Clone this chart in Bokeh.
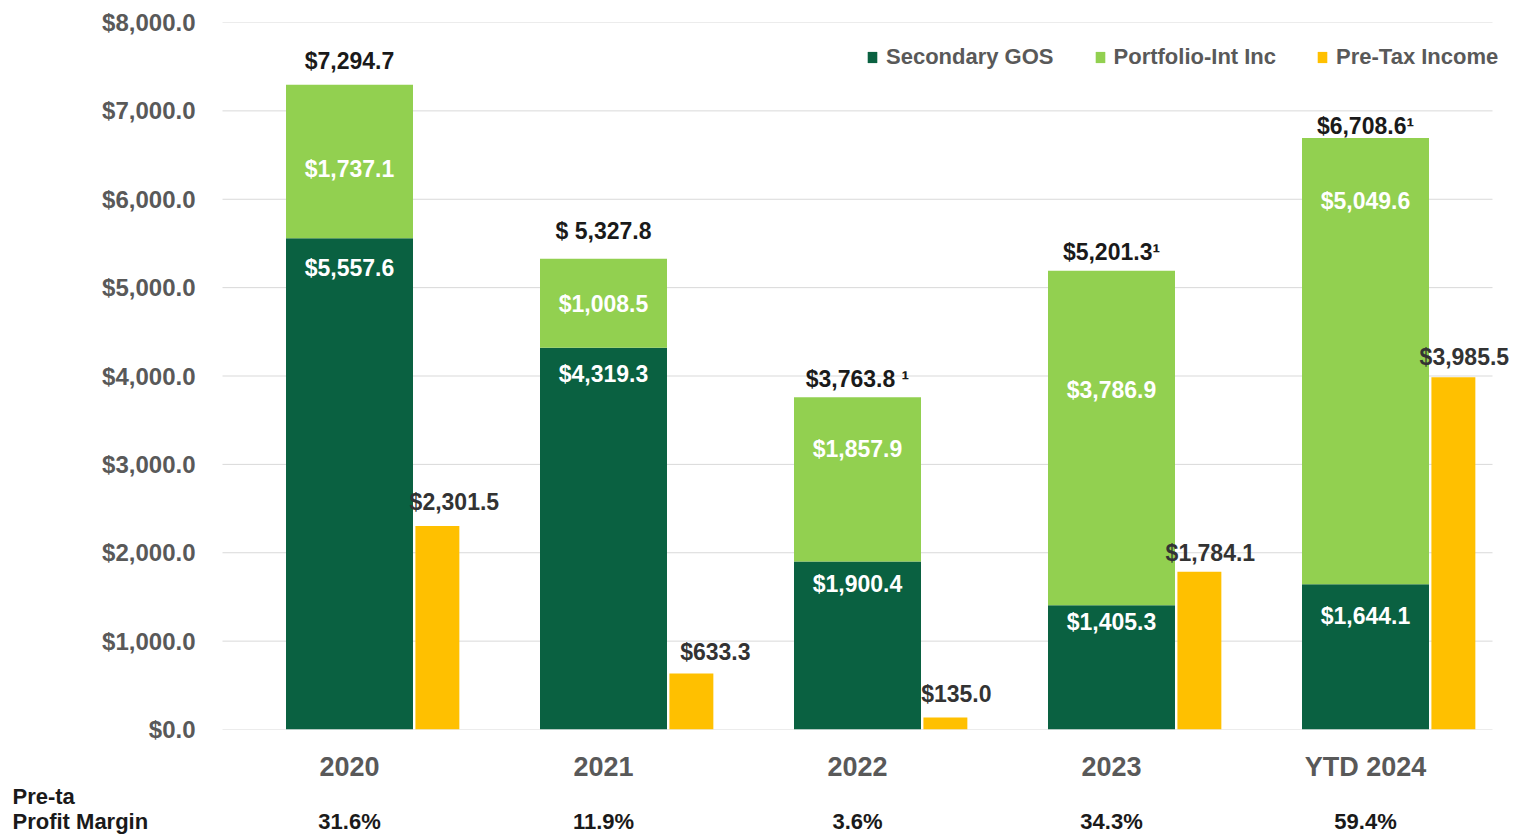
from bokeh.plotting import figure
from bokeh.layouts import column, row
from bokeh.models import (ColumnDataSource, FactorRange, Range1d, FixedTicker, NumeralTickFormatter,
                          LabelSet, Legend, LegendItem)
from bokeh.core.properties import value
from bokeh.transform import dodge
from bokeh.embed import file_html
from bokeh.resources import INLINE

# ---- data ----
years = ["2020", "2021", "2022", "2023", "YTD 2024"]
secondary_gos = [5557.6, 4319.3, 1900.4, 1405.3, 1644.1]
portfolio_int = [1737.1, 1008.5, 1857.9, 3786.9, 5049.6]
totals = [7294.7, 5327.8, 3763.8, 5201.3, 6708.6]
total_labels = ["$7,294.7", "$ 5,327.8", "$3,763.8 \u00b9", "$5,201.3\u00b9", "$6,708.6\u00b9"]
pretax_income = [2301.5, 633.3, 135.0, 1784.1, 3985.5]
profit_margin = ["31.6%", "11.9%", "3.6%", "34.3%", "59.4%"]
y_ticks = [0, 1000, 2000, 3000, 4000, 5000, 6000, 7000, 8000]

# ---- label placement (pixels) ----
gos_dy = [-30, -26, -22, -17, -32]
port_dy = [-84, -45, -52, -119, -63]
total_dy = [24, 28, 18, 18, 11]
pretax_dx = [17, 24, 11, 11, 11]
pretax_dy = [24, 22, 24, 19, 20]

DARK = "#0a6141"
LIGHT = "#92d050"
GOLD = "#ffc000"
FONT = "Liberation Sans"

W = 1515
CAT_PX = 254          # pixels per category
PAD = 20 / CAT_PX     # extra frame room on each side (synthetic units)
LEFT = 222 - 20       # frame left edge in px
H1 = 784
H2 = 52

src = ColumnDataSource(dict(
    years=years,
    gos=secondary_gos,
    port_top=[g + p for g, p in zip(secondary_gos, portfolio_int)],
    totals=totals,
    total_labels=total_labels,
    pretax=pretax_income,
    gos_txt=["${:,.1f}".format(v) for v in secondary_gos],
    port_txt=["${:,.1f}".format(v) for v in portfolio_int],
    pretax_txt=["${:,.1f}".format(v) for v in pretax_income],
    gos_dy=gos_dy, port_dy=port_dy, total_dy=total_dy,
    pretax_dx=pretax_dx, pretax_dy=pretax_dy,
))

frame_w = (len(years) + 2 * PAD) * CAT_PX
p = figure(x_range=FactorRange(*years, range_padding=PAD, range_padding_units="absolute"),
           y_range=Range1d(0, 8000),
           width=W, height=H1, output_backend="svg", toolbar_location=None,
           min_border_left=LEFT, min_border_right=int(round(W - LEFT - frame_w)),
           min_border_top=22, min_border_bottom=0)
p.outline_line_color = None
p.xgrid.grid_line_color = None
p.ygrid.grid_line_color = None

# gridlines spanning exactly the category area
grid_src = ColumnDataSource(dict(y=y_ticks, x0=[0] * len(y_ticks), x1=[len(years)] * len(y_ticks)))
p.segment(x0="x0", x1="x1", y0="y", y1="y", source=grid_src, line_color="#d9d9d9", line_width=1)

r_gos = p.vbar(x="years", top="gos", bottom=0, width=0.5, color=DARK, source=src, line_width=0)
r_port = p.vbar(x="years", top="port_top", bottom="gos", width=0.5, color=LIGHT, source=src, line_width=0)
r_pre = p.vbar(x=dodge("years", 0.346, range=p.x_range), top="pretax", bottom=0, width=0.173,
               color=GOLD, source=src, line_width=0)

# axes
p.yaxis.ticker = FixedTicker(ticks=y_ticks)
p.yaxis.formatter = NumeralTickFormatter(format="$0,0.0")
p.yaxis.axis_line_color = None
p.yaxis.major_tick_line_color = None
p.yaxis.minor_tick_line_color = None
p.yaxis.major_tick_out = 0
p.yaxis.minor_tick_out = 0
p.yaxis.major_label_standoff = 7
p.yaxis.major_label_text_font = FONT
p.yaxis.major_label_text_font_style = "bold"
p.yaxis.major_label_text_font_size = "24px"
p.yaxis.major_label_text_color = "#595959"

p.xaxis.axis_line_color = None
p.xaxis.major_tick_line_color = None
p.xaxis.minor_tick_line_color = None
p.xaxis.major_tick_out = 0
p.xaxis.minor_tick_out = 0
p.xaxis.major_label_standoff = 22
p.xaxis.major_label_text_font = FONT
p.xaxis.major_label_text_font_style = "bold"
p.xaxis.major_label_text_font_size = "27px"
p.xaxis.major_label_text_color = "#595959"

common = dict(text_font=value(FONT), text_font_style="bold", text_font_size="23px", text_align="center",
              text_baseline="middle", source=src)

p.add_layout(LabelSet(x="years", y="gos", text="gos_txt", y_offset="gos_dy", text_color="white", **common))
p.add_layout(LabelSet(x="years", y="port_top", text="port_txt", y_offset="port_dy", text_color="white", **common))
p.add_layout(LabelSet(x="years", y="totals", text="total_labels", y_offset="total_dy", text_color="#1a1a1a", **common))
p.add_layout(LabelSet(x=dodge("years", 0.346, range=p.x_range), y="pretax", text="pretax_txt",
                      x_offset="pretax_dx", y_offset="pretax_dy", text_color="#333333", **common))

legend = Legend(items=[LegendItem(label="Secondary GOS", renderers=[r_gos]),
                       LegendItem(label="Portfolio-Int Inc", renderers=[r_port]),
                       LegendItem(label="Pre-Tax Income", renderers=[r_pre])],
                orientation="horizontal", location=(866 - LEFT, 659),
                background_fill_alpha=0, border_line_color=None,
                padding=0, margin=0, spacing=40, glyph_width=12, glyph_height=14,
                label_standoff=8, label_text_font=FONT, label_text_font_style="bold",
                label_text_font_size="22px", label_text_color="#595959")
p.add_layout(legend, "center")

# ---- bottom strip: pre-tax profit margin row ----
p2 = figure(width=W, height=H2, output_backend="svg", toolbar_location=None,
            x_range=Range1d(-222 / CAT_PX, (W - 222) / CAT_PX), y_range=Range1d(H2, 0),
            min_border=0, x_axis_location=None, y_axis_location=None)
p2.outline_line_color = None
p2.grid.grid_line_color = None
msrc = ColumnDataSource(dict(x=[i + 0.5 for i in range(len(years))], y=[37] * len(years), t=profit_margin))
p2.text(x="x", y="y", text="t", source=msrc, text_font=value(FONT), text_font_style="bold",
        text_font_size="22px", text_color="#1a1a1a", text_align="center", text_baseline="middle")
hsrc = ColumnDataSource(dict(x=[-210 / CAT_PX] * 2, y=[12, 37], t=["Pre-ta", "Profit Margin"]))
p2.text(x="x", y="y", text="t", source=hsrc, text_font=value(FONT), text_font_style="bold",
        text_font_size="22px", text_color="#1a1a1a", text_align="left", text_baseline="middle")

layout = column(p, row(p2), spacing=0)
open("out.html", "w").write(file_html(layout, INLINE))
